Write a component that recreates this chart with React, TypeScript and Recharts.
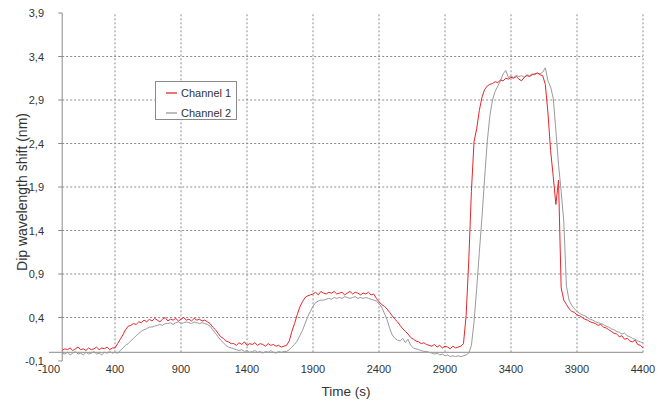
import {
  LineChart,
  Line,
  XAxis,
  YAxis,
  ReferenceLine,
  Legend,
} from "recharts";

// sampled every 20 s starting at t = 0
const T_START = 0;
const T_STEP = 20;

const CHANNEL_1 = [
  // 0–380
  0.02, 0.04, 0.03, 0.05, 0.02, 0.04, 0.06, 0.03, 0.04, 0.02, 0.05, 0.03, 0.04, 0.06, 0.03, 0.05, 0.04, 0.06, 0.03, 0.05,
  // 400–580
  0.05, 0.1, 0.15, 0.2, 0.26, 0.3, 0.31, 0.33, 0.32, 0.35,
  // 600–1080
  0.34, 0.37, 0.35, 0.38, 0.36, 0.39, 0.37, 0.35, 0.38, 0.4, 0.36, 0.38, 0.37, 0.39, 0.36, 0.38, 0.4, 0.37, 0.38, 0.36, 0.39, 0.37, 0.38, 0.36, 0.37,
  // 1100–1280
  0.35, 0.33, 0.29, 0.26, 0.22, 0.18, 0.16, 0.13, 0.12, 0.1,
  // 1300–1680
  0.1, 0.08, 0.11, 0.09, 0.12, 0.08, 0.1, 0.09, 0.11, 0.08, 0.1, 0.09, 0.07, 0.1, 0.08, 0.09, 0.07, 0.08, 0.06, 0.07,
  // 1700–1880
  0.08, 0.13, 0.24, 0.33, 0.43, 0.52, 0.58, 0.63, 0.65, 0.66,
  // 1900–2380
  0.67, 0.69, 0.66, 0.7, 0.68, 0.67, 0.69, 0.68, 0.7, 0.67, 0.68, 0.69, 0.66, 0.68, 0.7, 0.67, 0.69, 0.68, 0.66, 0.68, 0.67, 0.69, 0.66, 0.67, 0.62,
  // 2400–2780
  0.58, 0.55, 0.53, 0.5, 0.46, 0.42, 0.38, 0.35, 0.31, 0.27, 0.24, 0.21, 0.17, 0.15, 0.13, 0.12, 0.1, 0.11, 0.09, 0.08,
  // 2800–3020
  0.07, 0.09, 0.06, 0.08, 0.05, 0.07, 0.06, 0.04, 0.07, 0.05, 0.06, 0.07,
  // 3040–3200
  0.1, 0.42, 1.05, 1.85, 2.42, 2.57, 2.78, 2.93, 3.02,
  // 3220–3640
  3.06, 3.08, 3.09, 3.11, 3.1, 3.13, 3.12, 3.15, 3.14, 3.16, 3.15, 3.17, 3.14, 3.12, 3.16, 3.18, 3.17, 3.19, 3.2, 3.21, 3.19, 3.18,
  // 3660–3840
  3.08, 2.75, 2.32, 2.02, 1.7, 1.98, 0.74, 0.6, 0.55, 0.5,
  // 3860–4400
  0.47, 0.46, 0.43, 0.42, 0.4, 0.38, 0.37, 0.35, 0.34, 0.33, 0.31, 0.32, 0.29, 0.28, 0.26, 0.24, 0.22, 0.21, 0.18, 0.19, 0.15, 0.16, 0.13, 0.12, 0.14, 0.09, 0.08, 0.05,
];

const CHANNEL_2 = [
  // 0–380
  -0.01, -0.02, 0.0, -0.03, -0.01, 0.01, -0.02, -0.01, -0.03, 0.0, -0.02, -0.01, 0.01, -0.02, -0.01, -0.03, 0.0, -0.01, 0.01, -0.01,
  // 400–580
  0.0, -0.01, 0.02, 0.05, 0.08, 0.1, 0.13, 0.16, 0.19, 0.22,
  // 600–1080
  0.24, 0.26, 0.27, 0.29, 0.29, 0.3, 0.31, 0.32, 0.31, 0.33, 0.33, 0.34, 0.32, 0.34, 0.35, 0.33, 0.34, 0.35, 0.34, 0.33, 0.35, 0.34, 0.33, 0.34, 0.33,
  // 1100–1280
  0.32, 0.3, 0.26, 0.22, 0.18, 0.14, 0.11, 0.08, 0.06, 0.05,
  // 1300–1680
  0.04, 0.03, 0.02, 0.03, 0.01, 0.02, 0.0, 0.01, 0.02, 0.0, 0.01, -0.01, 0.01, 0.0, 0.02, 0.0, -0.01, 0.01, 0.0, 0.01,
  // 1700–1880
  0.01, 0.03, 0.06, 0.09, 0.13, 0.19, 0.25, 0.33, 0.41, 0.47,
  // 1900–2380
  0.53, 0.57, 0.59, 0.6, 0.6, 0.61, 0.62, 0.61, 0.63, 0.62, 0.63, 0.62, 0.64, 0.63, 0.62, 0.63, 0.64, 0.62, 0.63, 0.62, 0.63, 0.62, 0.61, 0.6, 0.59,
  // 2400–2780
  0.56, 0.52, 0.45, 0.38, 0.28, 0.2, 0.16, 0.14, 0.13, 0.16, 0.11, 0.15, 0.08, 0.05, 0.04, 0.03, 0.02, 0.01, 0.01, 0.0,
  // 2800–3020
  -0.01, -0.02, -0.01, -0.03, -0.02, -0.04, -0.03, -0.05, -0.04, -0.05, -0.04, -0.05,
  // 3040–3200
  -0.04, -0.03, -0.01, 0.08, 0.35, 0.73, 1.15, 1.55, 2.0,
  // 3220–3640
  2.42, 2.72, 2.9, 3.0, 3.06, 3.12, 3.2, 3.24, 3.16, 3.17, 3.16, 3.18, 3.17, 3.18, 3.16, 3.19, 3.18, 3.2, 3.19, 3.21, 3.2, 3.22,
  // 3660–3840
  3.27, 3.12, 3.05, 2.92, 2.55, 2.16, 1.85, 1.5, 0.76, 0.6,
  // 3860–4400
  0.54, 0.5, 0.47, 0.45, 0.43, 0.42, 0.4, 0.38, 0.37, 0.35, 0.34, 0.33, 0.32, 0.3, 0.29, 0.27, 0.26, 0.24, 0.23, 0.21, 0.22, 0.19, 0.18, 0.16, 0.15, 0.13, 0.12, 0.11,
];

const X_TICKS = [-100, 400, 900, 1400, 1900, 2400, 2900, 3400, 3900, 4400];
const Y_TICKS = [-0.1, 0.4, 0.9, 1.4, 1.9, 2.4, 2.9, 3.4, 3.9];
const X_GRID = [400, 900, 1400, 1900, 2400, 2900, 3400, 3900, 4400];
const Y_GRID = [0.4, 0.9, 1.4, 1.9, 2.4, 2.9, 3.4];

const SERIES = [
  { key: "ch1", name: "Channel 1", color: "#e8242b", swatch: "#eb7479" },
  { key: "ch2", name: "Channel 2", color: "#9a9a9a", swatch: "#bdbdbd" },
];

const FONT = "'Liberation Sans', Arial, sans-serif";
const TEXT = "#333";
const AXIS = "#8a8a8a";
const GRID = "#8c8c8c";

const data = CHANNEL_1.map((v, i) => ({
  t: T_START + i * T_STEP,
  ch1: v,
  ch2: CHANNEL_2[i],
}));

const comma = (v: number) => v.toFixed(1).replace(".", ",");

function YTick({ x, y, payload }: any) {
  return (
    <text x={x + 3} y={y} dy={4} textAnchor="end" fontSize={11} fill={TEXT} fontFamily={FONT}>
      {comma(payload.value)}
    </text>
  );
}

function LegendBox() {
  return (
    <div
      style={{
        width: 82,
        height: 39,
        boxSizing: "border-box",
        border: `1px solid ${AXIS}`,
        background: "#fff",
        paddingTop: 1,
        fontFamily: FONT,
        fontSize: 11,
        color: TEXT,
      }}
    >
      {SERIES.map((s) => (
        <div key={s.key} style={{ display: "flex", alignItems: "center", height: 20 }}>
          <div style={{ marginLeft: 10, width: 11, height: 0, borderTop: `2px solid ${s.swatch}` }} />
          <span style={{ marginLeft: 4, lineHeight: "11px" }}>{s.name}</span>
        </div>
      ))}
    </div>
  );
}

export default function App() {
  return (
    <div style={{ position: "absolute", left: 0, top: 0, background: "#fff" }}>
      <LineChart width={657} height={408} data={data} margin={{ top: 13, right: 14, left: 0, bottom: 0 }}>
        {X_GRID.map((t) => (
          <ReferenceLine
            key={"gx" + t}
            segment={[{ x: t, y: 0 }, { x: t, y: 3.9 }]}
            stroke={GRID}
            strokeDasharray="2 2"
          />
        ))}
        {Y_GRID.map((v) => (
          <ReferenceLine
            key={"gy" + v}
            segment={[{ x: 0, y: v }, { x: 4400, y: v }]}
            stroke={GRID}
            strokeDasharray="2 2"
          />
        ))}
        {Y_TICKS.map((v) => (
          <ReferenceLine key={"ty" + v} segment={[{ x: -30, y: v }, { x: 0, y: v }]} stroke={AXIS} />
        ))}
        <ReferenceLine x={0} stroke={AXIS} />
        <ReferenceLine y={0} stroke={AXIS} />
        <XAxis
          type="number"
          dataKey="t"
          domain={[-100, 4400]}
          ticks={X_TICKS}
          interval={0}
          axisLine={false}
          tickLine={false}
          tickSize={0}
          tickMargin={4}
          height={47}
          tick={{ fontSize: 11, fill: TEXT, fontFamily: FONT }}
          label={{
            content: ({ viewBox }: any) => (
              <text
                x={viewBox.x + viewBox.width / 2}
                y={viewBox.y + 35}
                textAnchor="middle"
                fontSize={13.5}
                fill={TEXT}
                fontFamily={FONT}
              >
                Time (s)
              </text>
            ),
          }}
        />
        <YAxis
          type="number"
          domain={[-0.1, 3.9]}
          ticks={Y_TICKS}
          interval={0}
          axisLine={false}
          tickLine={false}
          width={49}
          tick={<YTick />}
          label={{
            content: ({ viewBox }: any) => {
              const cx = viewBox.x + 22;
              const cy = viewBox.y + viewBox.height / 2 + 5;
              return (
                <text
                  x={cx}
                  y={cy}
                  transform={`rotate(-90 ${cx} ${cy})`}
                  textAnchor="middle"
                  dominantBaseline="central"
                  fontSize={14}
                  fill={TEXT}
                  fontFamily={FONT}
                >
                  Dip wavelength shift (nm)
                </text>
              );
            },
          }}
        />
        <Legend
          layout="vertical"
          align="center"
          verticalAlign="middle"
          wrapperStyle={{ left: 155, top: 81 }}
          content={() => <LegendBox />}
        />
        <Line
          type="linear"
          dataKey="ch2"
          name="Channel 2"
          stroke={SERIES[1].color}
          strokeWidth={1}
          dot={false}
          isAnimationActive={false}
        />
        <Line
          type="linear"
          dataKey="ch1"
          name="Channel 1"
          stroke={SERIES[0].color}
          strokeWidth={1}
          dot={false}
          isAnimationActive={false}
        />
      </LineChart>
    </div>
  );
}
